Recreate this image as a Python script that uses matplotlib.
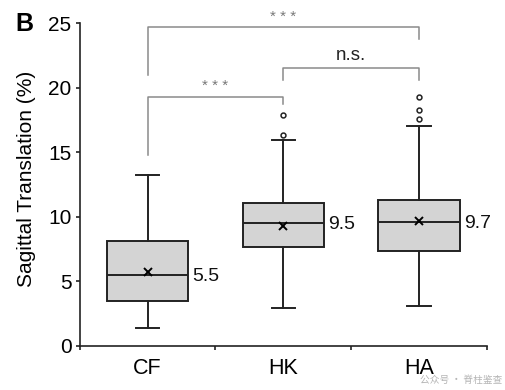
import matplotlib
matplotlib.use("Agg")
import matplotlib.pyplot as plt
from matplotlib.ticker import FixedLocator, NullFormatter

# ---- data ----
categories = ["CF", "HK", "HA"]
q1 = [3.5, 7.65, 7.35]
q3 = [8.1, 11.1, 11.3]
medians = [5.5, 9.5, 9.6]
means = [5.75, 9.3, 9.7]
whis_lo = [1.4, 2.9, 3.1]
whis_hi = [13.2, 15.95, 17.0]
outliers = [[], [16.35, 17.9], [17.6, 18.3, 19.25]]
median_labels = ["5.5", "9.5", "9.7"]
y_ticks = [0, 5, 10, 15, 20, 25]
ylabel = "Sagittal Translation (%)"

# brackets: (left idx, right idx, bar y, left leg bottom, right leg bottom, text)
brackets = [
    (0, 2, 24.7, 21.0, 23.8, "* * *"),
    (1, 2, 21.5, 20.6, 20.6, "n.s."),
    (0, 1, 19.3, 14.8, 18.7, "* * *"),
]

plt.rcParams["font.family"] = ["Liberation Sans", "DejaVu Sans"]

fig = plt.figure(figsize=(5.05, 3.9), dpi=100)
ax = fig.add_axes([0.158, 0.113, 0.806, 0.828])

positions = [0.5, 1.5, 2.5]
stats = []
for i, c in enumerate(categories):
    stats.append(dict(label=c, q1=q1[i], q3=q3[i], med=medians[i], mean=means[i],
                      whislo=whis_lo[i], whishi=whis_hi[i], fliers=outliers[i]))

lc = "#222222"
ax.bxp(stats, positions=positions, widths=0.6, patch_artist=True, showmeans=True,
       boxprops=dict(facecolor="#d4d4d4", edgecolor=lc, linewidth=1.4),
       medianprops=dict(color=lc, linewidth=1.4),
       whiskerprops=dict(color=lc, linewidth=1.4),
       capprops=dict(color=lc, linewidth=1.4),
       capwidths=0.17,
       meanprops=dict(marker="x", markeredgecolor="black", markersize=6, markeredgewidth=1.4),
       flierprops=dict(marker="o", markerfacecolor="white", markeredgecolor=lc,
                       markersize=3.5, markeredgewidth=1.1))

for i, lab in enumerate(median_labels):
    ax.text(positions[i] + 0.33, medians[i] - 0.1, lab, fontsize=14, va="center", ha="left",
            color="#111111")

bc = "#8a8a8a"
for li, ri, yb, yl, yr, txt in brackets:
    xl, xr = positions[li], positions[ri]
    ax.plot([xl, xl, xr, xr], [yl, yb, yb, yr], color=bc, linewidth=1.1, clip_on=False)
    if txt.startswith("*"):
        ax.text((xl + xr) / 2, yb + 0.25, txt, ha="center", va="bottom", fontsize=11,
                color="#777777")
    else:
        ax.text((xl + xr) / 2, yb + 0.3, txt, ha="center", va="bottom", fontsize=13.5,
                color="#222222")

ax.set_xlim(0, 3)
ax.set_ylim(0, 25)
ax.set_yticks(y_ticks)
ax.set_yticklabels([str(t) for t in y_ticks])
ax.xaxis.set_major_locator(FixedLocator([0, 1, 2, 3]))
ax.xaxis.set_major_formatter(NullFormatter())
ax.xaxis.set_minor_locator(FixedLocator(positions))
ax.set_xticklabels(categories, minor=True)
ax.tick_params(axis="x", which="minor", length=0, labelsize=15.5, pad=9)
ax.tick_params(axis="x", which="major", length=3, width=1.2, color=lc)
ax.tick_params(axis="y", length=3, width=1.2, color=lc, labelsize=15, pad=3)
ax.set_ylabel(ylabel, fontsize=15)
ax.yaxis.set_label_coords(-0.108, 0.517)

for s in ["top", "right"]:
    ax.spines[s].set_visible(False)
for s in ["left", "bottom"]:
    ax.spines[s].set_linewidth(1.2)
    ax.spines[s].set_color(lc)

fig.text(15 / 505, 1 - 24 / 390, "B", fontsize=18, fontweight="bold", va="center", ha="left")

# watermark (placed below the category labels, bottom-right)
fig.text(0.995, 0.012, "公众号 · 脊柱鉴查", fontsize=7, color="#b5b5b5",
         family=["Noto Sans CJK SC", "DejaVu Sans"], va="bottom", ha="right", zorder=0)

fig.savefig("out.png", dpi=100)
